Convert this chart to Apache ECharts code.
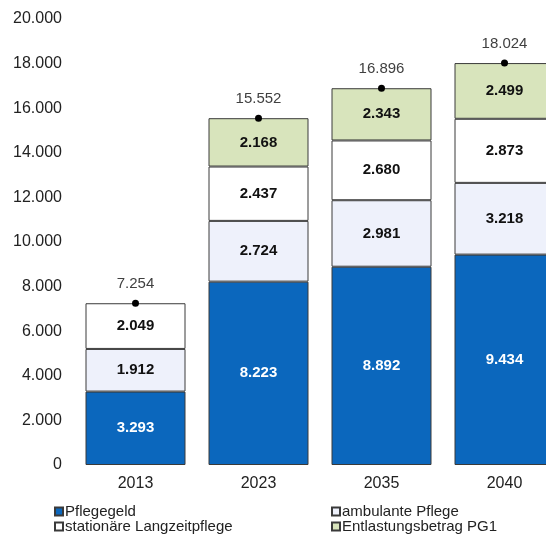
<!DOCTYPE html>
<html>
<head>
<meta charset="utf-8">
<script src="https://cdn.jsdelivr.net/npm/echarts@6/dist/echarts.min.js"></script>
<style>
html,body{margin:0;padding:0;background:#fff;}
#c{width:546px;height:535px;}
</style>
</head>
<body>
<div id="c"></div>
<script>
const categories = ['2013', '2023', '2035', '2040'];
const pflegegeld = [3293, 8223, 8892, 9434];
const ambulante = [1912, 2724, 2981, 3218];
const stationaere = [2049, 2437, 2680, 2873];
const entlastung = [null, 2168, 2343, 2499];
const totals = [7254, 15552, 16896, 18024];
const yTicks = { min: 0, max: 20000, interval: 2000 };

function de(v) {
  v = Math.round(v);
  return String(v).replace(/\B(?=(\d{3})+(?!\d))/g, '.');
}

const FONT = '"Liberation Sans", Arial, sans-serif';
const border = { borderColor: '#3a3a3a', borderWidth: 1 };

function barSeries(name, data, color, textColor) {
  return {
    name: name,
    type: 'bar',
    stack: 'total',
    barWidth: 100,
    data: data,
    itemStyle: Object.assign({ color: color }, border),
    label: {
      show: true,
      position: 'inside',
      fontFamily: FONT,
      fontSize: 15,
      fontWeight: 'bold',
      color: textColor,
      formatter: p => (p.value == null ? '' : de(p.value))
    },
    emphasis: { disabled: true }
  };
}

function legendItem(name, left, top) {
  return {
    left: left, top: top, padding: 0,
    itemWidth: 8, itemHeight: 8, icon: 'rect',
    textStyle: { fontFamily: FONT, fontSize: 15, color: '#222', padding: [0, 0, 0, -3] },
    data: [name]
  };
}

const chart = echarts.init(document.getElementById('c'), null, { renderer: 'canvas' });
chart.setOption({
  backgroundColor: '#ffffff',
  animation: false,
  grid: { left: 74, top: 19, width: 492, bottom: 70, containLabel: false, outerBoundsMode: 'none' },
  xAxis: {
    type: 'category',
    data: categories,
    axisLine: { show: false },
    axisTick: { show: false },
    axisLabel: { fontFamily: FONT, fontSize: 16, color: '#222', margin: 11 }
  },
  yAxis: {
    type: 'value',
    min: yTicks.min,
    max: yTicks.max,
    interval: yTicks.interval,
    splitLine: { show: false },
    axisLine: { show: false },
    axisTick: { show: false },
    axisLabel: { fontFamily: FONT, fontSize: 16, color: '#222', margin: 12, formatter: v => de(v) }
  },
  legend: [
    legendItem('Pflegegeld', 54, 504),
    legendItem('stationäre Langzeitpflege', 54, 519),
    legendItem('ambulante Pflege', 331, 504),
    legendItem('Entlastungsbetrag PG1', 331, 519)
  ],
  series: [
    barSeries('Pflegegeld', pflegegeld, '#0b67bd', '#ffffff'),
    barSeries('ambulante Pflege', ambulante, '#eef1fb', '#111'),
    barSeries('stationäre Langzeitpflege', stationaere, '#ffffff', '#111'),
    barSeries('Entlastungsbetrag PG1', entlastung, '#d8e4bc', '#111'),
    {
      name: 'Gesamt',
      type: 'line',
      data: totals,
      symbol: 'circle',
      symbolSize: 7,
      lineStyle: { width: 0, opacity: 0 },
      itemStyle: { color: '#000' },
      z: 10,
      label: {
        show: true,
        position: 'top',
        distance: 8,
        fontFamily: FONT,
        fontSize: 15,
        color: '#404040',
        formatter: p => de(p.value)
      },
      emphasis: { disabled: true }
    }
  ]
});
</script>
</body>
</html>
